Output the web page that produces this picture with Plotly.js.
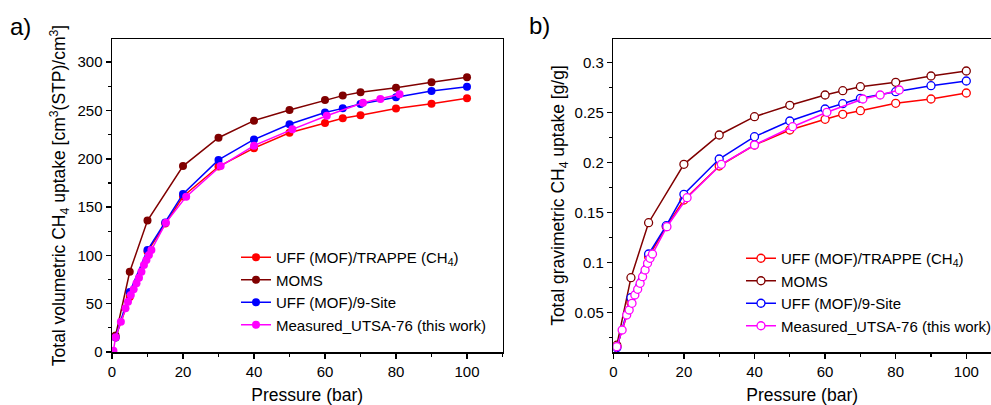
<!DOCTYPE html>
<html>
<head>
<meta charset="utf-8">
<script src="https://cdn.plot.ly/plotly-3.0.1.min.js"></script>
<style>html,body{margin:0;padding:0;background:#fff;}#chart{width:991px;height:405px;}</style>
</head>
<body>
<div id="chart"></div>
<script>
// ---- data ----
const seriesNames = ["UFF (MOF)/TRAPPE (CH<sub>4</sub>)", "MOMS", "UFF (MOF)/9-Site", "Measured_UTSA-76 (this work)"];
const pressureSim = [1, 5, 10, 15, 20, 30, 40, 50, 60, 65, 70, 80, 90, 100];
const pressureMoms = [1, 5, 10, 20, 30, 40, 50, 60, 65, 70, 80, 90, 100];
const pressureMeas = [0.4, 1.0, 2.5, 3.8, 4.5, 5.3, 6.1, 6.9, 7.6, 8.3, 9.0, 9.7, 10.4, 11.1, 15.2, 20.9, 30.6, 40, 50.8, 60.5, 70.7, 75.6, 81];

const volUffTrappe = [15, 57, 104, 133, 161, 192, 211, 227, 237, 242, 245, 252, 257, 262.6];
const volMoms = [17, 83, 136, 192.5, 221.8, 239.5, 250.5, 260.9, 265.4, 268.8, 273.6, 279.2, 284.3];
const volUff9 = [15, 62, 105.6, 134, 163.6, 198.8, 220, 235.7, 248, 252.2, 256.7, 263.6, 270.2, 274.6];
const volMeas = [1.3, 15.2, 31.4, 45.2, 52, 59, 64.9, 71.1, 76.9, 83.1, 90, 95.2, 100.4, 105.6, 133.9, 160.8, 192.5, 213.6, 230.5, 244.6, 258, 261.9, 266.7];

const gravUffTrappe = [0.016, 0.06, 0.106, 0.136, 0.1627, 0.1967, 0.2177, 0.2327, 0.2434, 0.2484, 0.252, 0.2594, 0.2637, 0.2697];
const gravMoms = [0.0175, 0.085, 0.140, 0.1984, 0.2277, 0.246, 0.2574, 0.2677, 0.272, 0.276, 0.2804, 0.2867, 0.2917];
const gravUff9 = [0.015, 0.065, 0.1087, 0.137, 0.1684, 0.2037, 0.226, 0.2417, 0.2537, 0.259, 0.2644, 0.271, 0.277, 0.2817];
const gravMeas = [0.0013, 0.016, 0.0327, 0.0477, 0.0527, 0.0594, 0.0677, 0.0734, 0.0794, 0.086, 0.0927, 0.0994, 0.1044, 0.1087, 0.136, 0.165, 0.1984, 0.2177, 0.236, 0.2504, 0.2637, 0.2677, 0.2727];

const gravTickVals = [0.05, 0.1, 0.15, 0.2, 0.25, 0.3];
const gravTickText = ["0.05", "0.1", "0.15", "0.2", "0.25", "0.3"];

// ---- styling ----
const colors = ["#ff0000", "#800000", "#0000ff", "#ff00ff"];
const FONT = "Liberation Sans, Arial, sans-serif";
const W = 991, H = 405;

function mk(x, y, i, filled, xa, ya, leg) {
  return {
    type: "scatter", mode: "lines+markers", x: x, y: y, name: seriesNames[i],
    xaxis: xa, yaxis: ya, legend: leg,
    line: {color: colors[i], width: 1.5},
    marker: filled ? {color: colors[i], size: 8, symbol: "circle", line: {width: 0}}
                   : {color: "#ffffff", size: 8, symbol: "circle", line: {color: colors[i], width: 1.3}}
  };
}

const data = [
  mk(pressureSim, volUffTrappe, 0, true, "x", "y", "legend"),
  mk(pressureMoms, volMoms, 1, true, "x", "y", "legend"),
  mk(pressureSim, volUff9, 2, true, "x", "y", "legend"),
  mk(pressureMeas, volMeas, 3, true, "x", "y", "legend"),
  mk(pressureSim, gravUffTrappe, 0, false, "x2", "y2", "legend2"),
  mk(pressureMoms, gravMoms, 1, false, "x2", "y2", "legend2"),
  mk(pressureSim, gravUff9, 2, false, "x2", "y2", "legend2"),
  mk(pressureMeas, gravMeas, 3, false, "x2", "y2", "legend2")
];

const yDom = [(H - 352) / H, (H - 39) / H];
const tickFont = {family: FONT, size: 15, color: "#000"};
const titleFont = {family: FONT, size: 17.5, color: "#000"};
const legFont = {family: FONT, size: 15, color: "#000"};

function xAxis(dom, rng, anchor) {
  return {
    domain: dom, range: rng, anchor: anchor, dtick: 20, tick0: 0,
    showgrid: false, zeroline: false, showline: true, linecolor: "#000", linewidth: 1.5,
    mirror: true, ticks: "outside", ticklen: 5, tickwidth: 1.5, tickcolor: "#000",
    minor: {ticks: "outside", ticklen: 3, tickwidth: 1.2, tickcolor: "#000", dtick: 10, tick0: 0, showgrid: false},
    tickfont: tickFont,
    title: {text: "Pressure (bar)", font: titleFont, standoff: 13}
  };
}

const layout = {
  width: W, height: H,
  margin: {l: 0, r: 0, t: 0, b: 0, autoexpand: false},
  paper_bgcolor: "#fff", plot_bgcolor: "#fff",
  showlegend: true,
  xaxis: xAxis([112 / W, 502.5 / W], [0, 110], "y"),
  xaxis2: xAxis([613.3 / W, 1], [0, (W - 613.3) / 3.53], "y2"),
  yaxis: {
    domain: yDom, range: [0, 324], anchor: "x", dtick: 50, tick0: 0,
    showgrid: false, zeroline: false, showline: true, linecolor: "#000", linewidth: 1.5,
    mirror: true, ticks: "outside", ticklen: 5, tickwidth: 1.5, tickcolor: "#000",
    minor: {ticks: "outside", ticklen: 3, tickwidth: 1.2, tickcolor: "#000", dtick: 25, tick0: 0, showgrid: false},
    tickfont: tickFont,
    title: {text: "Total volumetric CH<sub>4</sub> uptake [cm<sup>3</sup>(STP)/cm<sup>3</sup>]", font: titleFont, standoff: 7}
  },
  yaxis2: {
    domain: yDom, range: [0.0107, 0.3237], anchor: "x2",
    tickmode: "array", tickvals: gravTickVals, ticktext: gravTickText,
    showgrid: false, zeroline: false, showline: true, linecolor: "#000", linewidth: 1.5,
    mirror: false, ticks: "outside", ticklen: 5, tickwidth: 1.5, tickcolor: "#000",
    minor: {ticks: "outside", ticklen: 3, tickwidth: 1.2, tickcolor: "#000", dtick: 0.025, tick0: 0, showgrid: false},
    tickfont: tickFont,
    title: {text: "Total gravimetric CH<sub>4</sub> uptake [g/g]", font: titleFont, standoff: 5}
  },
  legend: {
    x: 236 / W, xanchor: "left", y: (H - 241) / H, yanchor: "top",
    bgcolor: "rgba(0,0,0,0)", borderwidth: 0, tracegroupgap: 0,
    font: legFont
  },
  legend2: {
    x: 741 / W, xanchor: "left", y: (H - 242) / H, yanchor: "top",
    bgcolor: "rgba(0,0,0,0)", borderwidth: 0, tracegroupgap: 0,
    font: legFont
  },
  annotations: [
    {text: "a)", xref: "paper", yref: "paper", x: 8 / W, y: (H - 27) / H, xanchor: "left", yanchor: "middle",
     showarrow: false, font: {family: FONT, size: 24, color: "#000"}},
    {text: "b)", xref: "paper", yref: "paper", x: 527 / W, y: (H - 25) / H, xanchor: "left", yanchor: "middle",
     showarrow: false, font: {family: FONT, size: 24, color: "#000"}}
  ]
};

Plotly.newPlot("chart", data, layout, {staticPlot: true, displayModeBar: false});
</script>
</body>
</html>
